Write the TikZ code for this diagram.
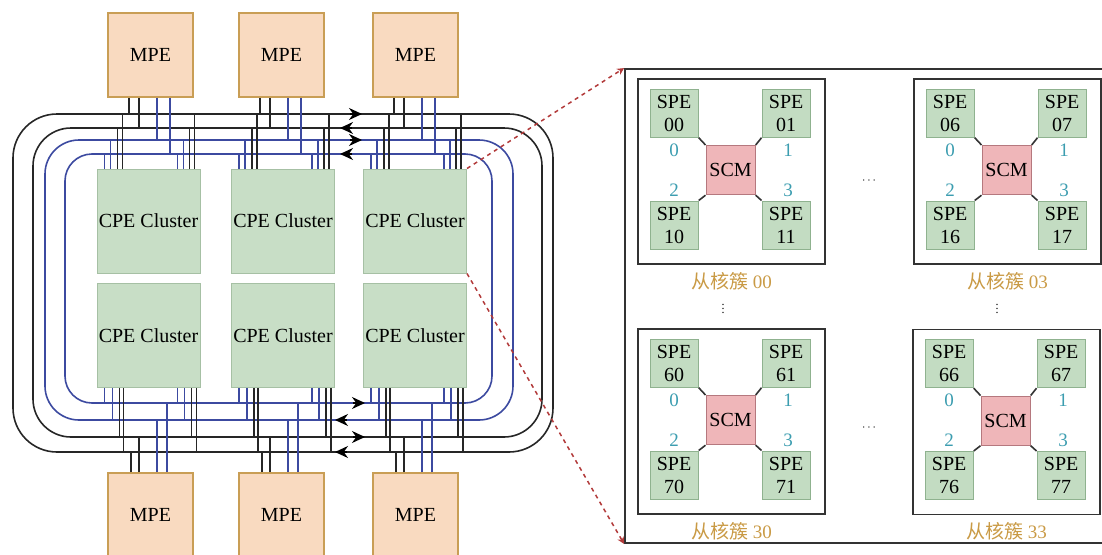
\documentclass[tikz,border=0pt]{standalone}
\usepackage{fontspec}
\setmainfont{Liberation Serif}
\newfontfamily\cjk{Noto Sans CJK SC}
\usepackage{xcolor}
\usepackage{tikz}
\usetikzlibrary{positioning,calc,arrows.meta}
\definecolor{mpefill}{HTML}{F9DAC0}
\definecolor{mpeline}{HTML}{C99E55}
\definecolor{cpefill}{HTML}{C8DEC6}
\definecolor{cpeline}{HTML}{A6C0A4}
\definecolor{spefill}{HTML}{C3DCC2}
\definecolor{speline}{HTML}{8FB28F}
\definecolor{scmfill}{HTML}{EFB6B9}
\definecolor{scmline}{HTML}{B5787E}
\definecolor{busblue}{HTML}{3C4AA0}
\definecolor{portcol}{HTML}{3C9DB0}
\definecolor{lblcol}{HTML}{C99A45}
\definecolor{zoomred}{HTML}{B23A3A}
\definecolor{frame}{HTML}{333333}

\begin{document}
\begin{tikzpicture}[x=1pt, y=-1pt,
    txt/.style={font=\fontsize{20}{23}\selectfont},
    mpe/.style={rectangle, txt, draw=mpeline, fill=mpefill, line width=1.6pt, minimum width=85pt, minimum height=84pt, inner sep=0pt},
    cpe/.style={rectangle, txt, draw=cpeline, fill=cpefill, line width=1pt, minimum width=103pt, minimum height=104pt, inner sep=0pt},
    spe/.style={rectangle, txt, draw=speline, fill=spefill, line width=1.2pt, minimum size=48pt, inner sep=0pt, align=center},
    scm/.style={rectangle, txt, draw=scmline, fill=scmfill, line width=1.2pt, minimum size=49pt, inner sep=0pt},
    grp/.style={rectangle, draw=frame, line width=1.8pt, minimum width=187pt, minimum height=185pt},
    panel/.style={rectangle, draw=frame, line width=1.8pt, minimum width=479pt, minimum height=474pt},
    port/.style={text=portcol, font=\fontsize{19}{20}\selectfont, inner sep=0pt},
    grplabel/.style={text=lblcol, font=\fontsize{19}{21}\selectfont, inner sep=0pt},
    ellip/.style={font=\fontsize{12}{12}\selectfont, inner sep=0pt},
    blk/.style={draw=black!85, line width=1.6pt},
    blu/.style={draw=busblue, line width=1.6pt},
    link/.style={draw=frame, line width=1.6pt},
    flow/.style={-{Stealth[length=13pt,width=12pt]}, line width=1.6pt},
    magnify/.style={draw=zoomred, line width=1.5pt, dash pattern=on 4pt off 4pt, -{Stealth[length=7pt,width=7pt]}}
]
\useasboundingbox (0,0) rectangle (1102,554);

% MPEs and CPE clusters
\foreach \i/\x in {1/150.5,2/281.5,3/415.5} {
    \node[mpe] (mt\i) at (\x,55) {MPE};
    \node[mpe] (mb\i) at (\x,515) {MPE};
}
\foreach \i/\x in {1/148.5,2/283,3/415} {
    \node[cpe] (ct\i) at (\x,221) {CPE Cluster};
    \node[cpe] (cb\i) at (\x,335.5) {CPE Cluster};
}

% ring buses
\draw[blk, rounded corners=44pt] (13,114) rectangle (553,452);
\draw[blk, rounded corners=38pt] (33,128) rectangle (542,437);
\draw[blu, rounded corners=34pt] (45,140) rectangle (513,420);
\draw[blu, rounded corners=27pt] (65,154) rectangle (492,403);

% taps onto the rings
\foreach \m in {mt1,mt2,mt3}
    \foreach \dx/\ry/\st in {22/114/blk,32/128/blk,50/140/blu,63/154/blu}
        \draw[\st] ($(\m.south west)+(\dx,0)$) coordinate (s) -- (s |- 0,\ry);
\foreach \m in {mb1,mb2,mb3}
    \foreach \dx/\ry/\st in {24/452/blk,32/437/blk,50/420/blu,60/403/blu}
        \draw[\st] ($(\m.north west)+(\dx,0)$) coordinate (s) -- (s |- 0,\ry);
\foreach \c in {ct1,ct2,ct3} {
    \foreach \dx/\ry/\st in {8/154/blu,14/140/blu,21/128/blk,26/114/blk}
        \draw[\st] ($(\c.north west)+(\dx,0)$) coordinate (s) -- (s |- 0,\ry);
    \foreach \dx/\ry/\st in {-23/154/blu,-17/140/blu,-11/128/blk,-6/114/blk}
        \draw[\st] ($(\c.north east)+(\dx,0)$) coordinate (s) -- (s |- 0,\ry);
}
\foreach \c in {cb1,cb2,cb3} {
    \foreach \dx/\ry/\st in {8/403/blu,16/420/blu,23/437/blk,27/452/blk}
        \draw[\st] ($(\c.south west)+(\dx,0)$) coordinate (s) -- (s |- 0,\ry);
    \foreach \dx/\ry/\st in {-23/403/blu,-16/420/blu,-9/437/blk,-4/452/blk}
        \draw[\st] ($(\c.south east)+(\dx,0)$) coordinate (s) -- (s |- 0,\ry);
}

% direction marks
\foreach \ry in {114,140} \draw[flow] (350,\ry) -- (362,\ry);
\foreach \ry in {128,154} \draw[flow] (352,\ry) -- (340,\ry);
\foreach \ry in {403,437} \draw[flow] (353,\ry) -- (365,\ry);
\foreach \ry in {420,452} \draw[flow] (347,\ry) -- (335,\ry);

% zoomed view of one cluster
\node[panel] (panel) at (864.5,306) {};
\draw[magnify] (ct3.north east) -- (panel.north west);
\draw[magnify] (ct3.south east) -- (panel.south west);

\foreach \g/\cx/\cy/\a/\b/\c/\d/\lab in {g00/731.5/171.5/00/01/10/11/00, g03/1007.5/171.5/06/07/16/17/03,
    g30/731.5/421.5/60/61/70/71/30, g33/1006.5/422/66/67/76/77/33} {
    \node[grp] (\g) at (\cx,\cy) {};
    \node[spe] (\g-a) at ($(\g.north west)+(37,35)$) {SPE\\\a};
    \node[spe] (\g-b) at ($(\g.north west)+(149,35)$) {SPE\\\b};
    \node[spe] (\g-c) at ($(\g.north west)+(37,147)$) {SPE\\\c};
    \node[spe] (\g-d) at ($(\g.north west)+(149,147)$) {SPE\\\d};
    \node[scm] (\g-m) at ($(\g.north west)+(93.5,92)$) {SCM};
    \draw[link] (\g-a.south east) -- (\g-m.north west);
    \draw[link] (\g-b.south west) -- (\g-m.north east);
    \draw[link] (\g-c.north east) -- (\g-m.south west);
    \draw[link] (\g-d.north west) -- (\g-m.south east);
    \node[port] (\g-p0) at ($(\g.north west)+(37,72)$) {0};
    \node[port] (\g-p1) at ($(\g.north west)+(151,72)$) {1};
    \node[port] (\g-p2) at ($(\g.north west)+(37,112)$) {2};
    \node[port] (\g-p3) at ($(\g.north west)+(151,112)$) {3};
    \node[grplabel, below=7pt of \g] (\g-l) {{\cjk 从核簇} \lab};
}

\node[ellip] (hdots1) at (869,181) {$\cdots$};
\node[ellip] (hdots2) at (869,428) {$\cdots$};
\node[ellip] (vdots1) at (723,306) {$\vdots$};
\node[ellip] (vdots2) at (997,306) {$\vdots$};

\end{tikzpicture}
\end{document}
